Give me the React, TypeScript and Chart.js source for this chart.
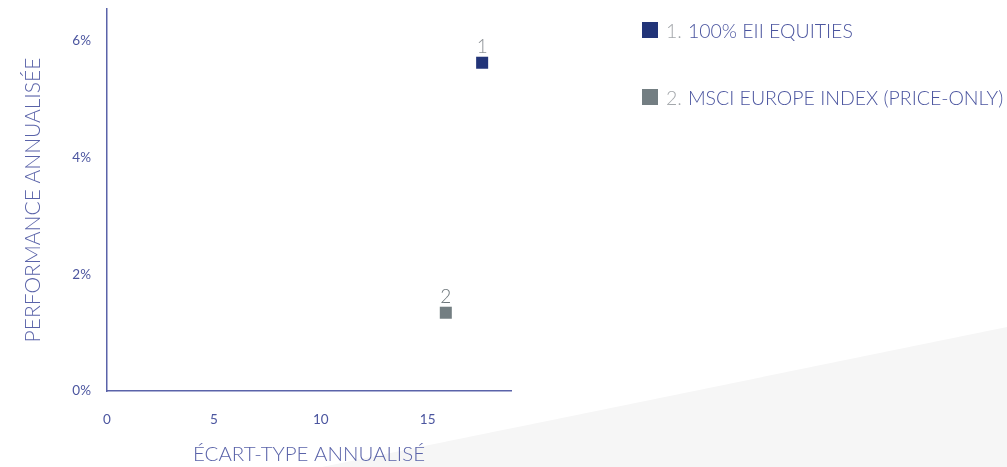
import React, { useEffect, useRef } from "react";
import { Chart, registerables } from "chart.js";

Chart.register(...registerables);

const seriesNumbers = ["1", "2"];
const seriesLabels = ["100% EII EQUITIES", "MSCI EUROPE INDEX (PRICE-ONLY)"];
const stdDevValues = [17.55, 15.85];
const returnValues = [5.62, 1.34];
const seriesColors = ["#223478", "#737e82"];
const numberColors = ["#8e9397", "#6d767b"];
const xTickValues = [0, 5, 10, 15];
const yTickValues = [0, 2, 4, 6];
const xTitle = "ÉCART-TYPE ANNUALISÉ";
const yTitle = "PERFORMANCE ANNUALISÉE";

const FONT = "Lato, 'Open Sans', sans-serif";
const AXIS_COLOR = "#5a63a9";
const TEXT_COLOR = "#4b559f";

const numberLabels = {
  id: "numberLabels",
  afterDatasetsDraw(chart: any) {
    const ctx = chart.ctx;
    chart.data.datasets.forEach((_: any, i: number) => {
      const el = chart.getDatasetMeta(i).data[0];
      if (!el) return;
      ctx.save();
      ctx.font = `300 19px ${FONT}`;
      ctx.fillStyle = numberColors[i];
      ctx.textAlign = "center";
      ctx.textBaseline = "bottom";
      ctx.fillText(seriesNumbers[i], el.x, el.y - 6);
      ctx.restore();
    });
  },
};

export default function App() {
  const canvasRef = useRef<HTMLCanvasElement | null>(null);

  useEffect(() => {
    if (!canvasRef.current) return;
    const chart = new Chart(canvasRef.current, {
      type: "scatter",
      data: {
        datasets: seriesLabels.map((label, i) => ({
          label,
          data: [{ x: stdDevValues[i], y: returnValues[i] }],
          backgroundColor: seriesColors[i],
          borderColor: seriesColors[i],
          borderWidth: 0,
          pointStyle: "rect",
          pointRadius: 8.5,
          pointHoverRadius: 8.5,
        })),
      },
      options: {
        responsive: false,
        animation: false,
        layout: { padding: { left: 0, right: 496, top: 9, bottom: 0 } },
        plugins: {
          legend: { display: false },
          tooltip: { enabled: false },
        },
        scales: {
          x: {
            type: "linear",
            min: 0,
            max: 18.9,
            afterBuildTicks: (s: any) => {
              s.ticks = xTickValues.map((v) => ({ value: v }));
            },
            afterFit: (s: any) => {
              s.height = 76;
              s.paddingLeft = 0;
              s.paddingRight = 0;
              s.paddingTop = 0;
              s.paddingBottom = 0;
            },
            grid: { display: false, drawTicks: false },
            border: { color: AXIS_COLOR, width: 1.5 },
            ticks: {
              color: TEXT_COLOR,
              font: { family: FONT, size: 13.5, weight: "400" },
              padding: 21,
            },
            title: {
              display: true,
              text: xTitle,
              color: AXIS_COLOR,
              font: { family: FONT, size: 20.5, weight: "300" },
              padding: { top: 0, bottom: 0 },
            },
          },
          y: {
            type: "linear",
            min: 0,
            max: 6.54,
            afterBuildTicks: (s: any) => {
              s.ticks = yTickValues.map((v) => ({ value: v }));
            },
            afterFit: (s: any) => {
              s.width = 107;
              s.paddingLeft = 0;
              s.paddingRight = 0;
              s.paddingTop = 0;
              s.paddingBottom = 0;
            },
            grid: { display: false, drawTicks: false },
            border: { color: AXIS_COLOR, width: 1.5 },
            ticks: {
              color: TEXT_COLOR,
              font: { family: FONT, size: 13.5, weight: "400" },
              padding: 16,
              callback: (v: any) => `${v}%`,
            },
            title: {
              display: true,
              text: yTitle,
              color: AXIS_COLOR,
              font: { family: FONT, size: 21, weight: "300" },
              padding: { top: 21, bottom: 0 },
            },
          },
        },
      },
      plugins: [numberLabels],
    });
    return () => chart.destroy();
  }, []);

  const legendTops = [22, 89];

  return (
    <div
      style={{
        position: "absolute",
        left: 0,
        top: 0,
        width: 1007,
        height: 467,
        overflow: "hidden",
        background: "#ffffff",
        fontFamily: FONT,
      }}
    >
      <div
        style={{
          position: "absolute",
          left: 0,
          top: 0,
          width: 1007,
          height: 467,
          background: "#f6f6f6",
          clipPath: "polygon(322px 467px, 1007px 327px, 1007px 467px)",
        }}
      />
      <canvas
        ref={canvasRef}
        width={1007}
        height={467}
        style={{ position: "absolute", left: 0, top: 0 }}
      />
      {seriesLabels.map((label, i) => (
        <div
          key={label}
          style={{
            position: "absolute",
            left: 642,
            top: legendTops[i],
            height: 16,
            display: "flex",
            alignItems: "center",
            whiteSpace: "nowrap",
            fontWeight: 300,
          }}
        >
          <span
            style={{
              display: "inline-block",
              width: 16,
              height: 16,
              background: seriesColors[i],
              marginRight: 8,
            }}
          />
          <span style={{ fontSize: 19.5, color: "#a3a7ab", marginRight: 6 }}>
            {seriesNumbers[i]}.
          </span>
          <span style={{ fontSize: 19.5, color: TEXT_COLOR }}>{label}</span>
        </div>
      ))}
    </div>
  );
}
